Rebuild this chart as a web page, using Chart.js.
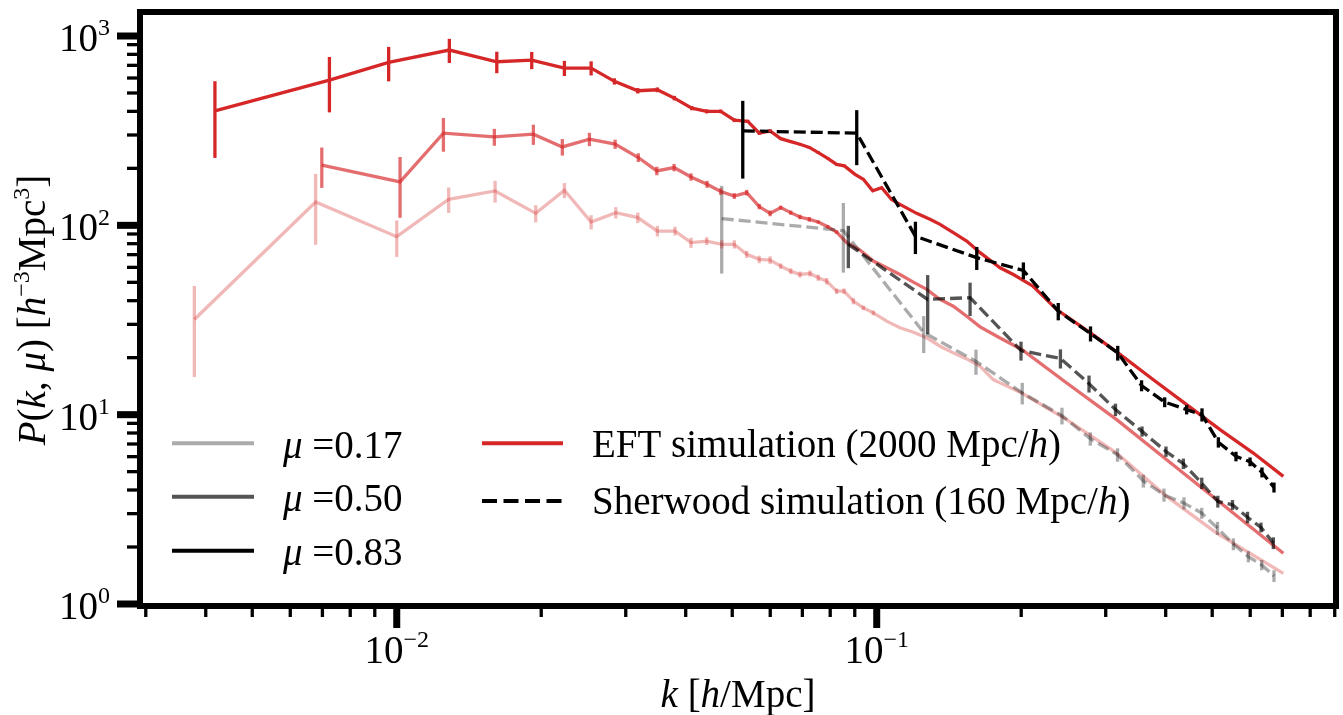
<!DOCTYPE html>
<html>
<head>
<meta charset="utf-8">
<script src="https://cdn.jsdelivr.net/npm/chart.js@4.4.0/dist/chart.umd.min.js"></script>
<style>
  html, body { margin: 0; padding: 0; background: #fff; }
</style>
</head>
<body>
<canvas id="myChart" width="1343" height="715"></canvas>
<script>
// EFT simulation (2000 Mpc/h), three mu bins
const eftK83 = [0.00418, 0.00724, 0.00962, 0.01287, 0.01616, 0.01911, 0.02235, 0.02541, 0.02841, 0.03178,
  0.03491, 0.03787, 0.04118, 0.04424, 0.04732, 0.0505, 0.05387, 0.05692, 0.05996, 0.0631,
  0.0662, 0.0692, 0.07238, 0.07555, 0.07905, 0.0825, 0.08561, 0.09011, 0.09378, 0.09809,
  0.1024, 0.1074, 0.1118, 0.1211, 0.1291, 0.1355, 0.1444, 0.154, 0.1642, 0.1807,
  0.1926, 0.2117, 0.2371, 0.2783, 0.3213, 0.377, 0.4423, 0.5191, 0.609, 0.7033];
const eftP83 = [402, 585, 726, 843, 731, 746, 677, 677, 576, 514,
  520, 470, 416, 400, 400, 359, 354, 307, 315, 287,
  277, 268, 258, 242, 226, 210, 206, 186, 175, 152,
  158, 137, 129, 115.7, 107.6, 101.2, 91.5, 82.6, 71.7, 59.7,
  55.0, 47.7, 35.9, 27.1, 20.8, 15.3, 11.3, 8.33, 6.27, 4.72];
const eftErr83 = [175, 190, 150, 123, 95, 78, 62, 58, 22, 17,
  15, 13, 11, 10, 9, 8, 7, 6, 6, 5,
  5, 4, 4, 4, 3, 3, 3, 0, 0, 0];

const eftK50 = [0.00698, 0.01016, 0.01251, 0.01597, 0.01926, 0.02213, 0.0252, 0.02851, 0.03186, 0.03482,
  0.03783, 0.04103, 0.04431, 0.04732, 0.0505, 0.05359, 0.05692, 0.05996, 0.0631, 0.0662,
  0.0692, 0.07238, 0.07555, 0.07905, 0.0825, 0.08658, 0.09231, 0.09837, 0.1049, 0.1118,
  0.1192, 0.1271, 0.1355, 0.1444, 0.154, 0.1642, 0.1807, 0.2005, 0.2488, 0.3162,
  0.4019, 0.5109, 0.7033];
const eftP50 = [207.7, 169.6, 306.8, 293.2, 303, 259.6, 285.1, 268.4, 228.1, 193.9,
  202, 180.2, 164.8, 150.8, 142.9, 148.9, 125.6, 115.7, 124.1, 116.7,
  110.7, 107.6, 104.1, 98.4, 92.2, 81.0, 74.0, 64.8, 59.7, 55.0,
  50.1, 45.9, 40.6, 37.4, 33.1, 29.1, 25.4, 22.1, 14.7, 9.41,
  5.78, 3.55, 1.855];
const eftErr50 = [50, 60, 62, 30, 37, 26, 23, 15, 12, 10,
  9, 8, 7, 6, 5, 5, 4, 4, 3, 3,
  3, 3, 2, 2, 2];

const eftK17 = [0.003787, 0.006776, 0.01, 0.01283, 0.01603, 0.01948, 0.02235, 0.02541, 0.0286, 0.03178,
  0.03491, 0.038, 0.04103, 0.04424, 0.04754, 0.0505, 0.05359, 0.05692, 0.05996, 0.0631,
  0.0662, 0.0692, 0.07261, 0.07555, 0.07866, 0.0825, 0.08549, 0.0894, 0.09378, 0.09837,
  0.1049, 0.1118, 0.1192, 0.1271, 0.1355, 0.1444, 0.154, 0.1642, 0.1749, 0.1807,
  0.2005, 0.2488, 0.3162, 0.4019, 0.5109, 0.7033];
const eftP17 = [31.8, 132.9, 87.1, 137.3, 151.9, 115.7, 153.2, 104.1, 116.7, 109.8,
  93.3, 93.3, 81.0, 82.6, 79.4, 79.4, 70.3, 66.1, 65.6, 60.9,
  57.3, 55.0, 55.7, 52.9, 50.7, 44.9, 44.9, 39.8, 36.7, 34.5,
  31.2, 28.75, 27.25, 25.46, 22.98, 21.2, 19.71, 18.01, 15.32, 14.72,
  13.02, 9.41, 6.27, 3.70, 2.37, 1.45];
const eftErr17 = [16, 54, 19, 21, 20, 12, 14, 9, 8, 7,
  6, 5, 5, 4, 4, 4, 3, 3, 3, 2,
  2, 2, 2, 2, 2, 1.5, 1.5, 1.5, 1, 1];

// Sherwood simulation (160 Mpc/h), three mu bins
const shK83 = [0.05259, 0.09086, 0.1204, 0.1616, 0.2021, 0.2389, 0.2789, 0.3178, 0.3563, 0.3981,
  0.4423, 0.4761, 0.515, 0.5604, 0.5995, 0.6349, 0.6725];
const shP83 = [315.5, 306.8, 87.5, 67.5, 57.8, 35.2, 26.8, 21.2, 14.24, 11.65,
  10.63, 10.0, 7.15, 6.02, 5.64, 4.96, 4.13];
const shErr83 = [139, 99, 17, 9.4, 5.9, 3.7, 2.45, 1.9, 0.95, 0.7,
  0.6, 0.8, 0.45, 0.35, 0.3, 0.3, 0.25];

const shK50 = [0.08727, 0.1277, 0.1565, 0.1998, 0.2414, 0.2769, 0.3144, 0.3571, 0.4006, 0.4354,
  0.4755, 0.5137, 0.5511, 0.5923, 0.6318, 0.6704];
const shP50 = [79.4, 40.6, 41.5, 21.8, 19.83, 14.59, 10.63, 8.16, 6.39, 5.51,
  4.35, 3.48, 3.34, 2.87, 2.54, 2.10];
const shErr50 = [20, 14, 8.3, 2.5, 2.3, 1.5, 0.8, 0.5, 0.4, 0.35,
  0.3, 0.25, 0.2, 0.2, 0.15, 0.15];

const shK17 = [0.04754, 0.08521, 0.1253, 0.161, 0.201, 0.2432, 0.2786, 0.3175, 0.3593, 0.3967,
  0.4367, 0.4755, 0.5129, 0.5534, 0.5946, 0.634, 0.6725];
const shP17 = [108.6, 93.75, 27.16, 19.14, 13.02, 9.88, 7.46, 6.14, 4.47, 3.77,
  3.41, 3.02, 2.515, 2.073, 1.78, 1.608, 1.406];
const shErr17 = [53, 37.5, 6, 2.9, 1.7, 1.0, 0.6, 0.5, 0.35, 0.3,
  0.25, 0.2, 0.2, 0.15, 0.12, 0.1, 0.1];

// legend / axis text
const muLabels = ['0.17', '0.50', '0.83'];
const eftLabel = 'EFT simulation (2000 Mpc/';
const sherwoodLabel = 'Sherwood simulation (160 Mpc/';
const xMajorExps = [-2, -1];
const yMajorExps = [0, 1, 2, 3];

const FONT = '"Liberation Serif", "DejaVu Serif", serif';
const FS = 39;
const RED = [214, 39, 40];
const ALPHAS = [0.33, 0.67, 1];

function pts(ks, ps) {
  return ks.map((k, i) => ({ x: k, y: ps[i] }));
}
function rgba(c, a) {
  return 'rgba(' + c[0] + ',' + c[1] + ',' + c[2] + ',' + a + ')';
}

function eftSet(ks, ps, errs, a) {
  return {
    data: pts(ks, ps), errors: errs,
    borderColor: rgba(RED, a), borderWidth: 3.3,
    pointRadius: 0, tension: 0, order: 1
  };
}
function shSet(ks, ps, errs, a) {
  return {
    data: pts(ks, ps), errors: errs,
    borderColor: rgba([0, 0, 0], a), borderWidth: 3.3, borderDash: [12, 5],
    pointRadius: 0, tension: 0, order: 0
  };
}

// draw a string made of pieces: [text, 'n' | 'i' | 's']
function richText(ctx, parts, x, y, size, align) {
  const fonts = parts.map(p => (p[1] === 'i' ? 'italic ' : '') +
    (p[1] === 's' ? Math.round(size * 0.62) : size) + 'px ' + FONT);
  let w = 0;
  parts.forEach((p, i) => { ctx.font = fonts[i]; w += ctx.measureText(p[0]).width; });
  let cx = align === 'center' ? x - w / 2 : (align === 'right' ? x - w : x);
  ctx.textAlign = 'left';
  ctx.textBaseline = 'alphabetic';
  parts.forEach((p, i) => {
    ctx.font = fonts[i];
    ctx.fillText(p[0], cx, p[1] === 's' ? y - size * 0.4 : y);
    cx += ctx.measureText(p[0]).width;
  });
}

const errorBars = {
  id: 'errorBars',
  afterDatasetsDraw(chart) {
    const ctx = chart.ctx, xs = chart.scales.x, ys = chart.scales.y, a = chart.chartArea;
    ctx.save();
    ctx.beginPath();
    ctx.rect(a.left, a.top, a.right - a.left, a.bottom - a.top);
    ctx.clip();
    ctx.setLineDash([]);
    ctx.lineWidth = 3.3;
    chart.data.datasets.forEach(ds => {
      ctx.strokeStyle = ds.borderColor;
      ds.data.forEach((p, i) => {
        const e = ds.errors[i];
        if (!e) return;
        const px = xs.getPixelForValue(p.x);
        ctx.beginPath();
        ctx.moveTo(px, ys.getPixelForValue(p.y + e));
        ctx.lineTo(px, ys.getPixelForValue(Math.max(p.y - e, 0.5)));
        ctx.stroke();
      });
    });
    ctx.restore();
  }
};

const decorations = {
  id: 'decorations',
  afterDraw(chart) {
    const ctx = chart.ctx, xs = chart.scales.x, ys = chart.scales.y, a = chart.chartArea;
    ctx.save();
    ctx.fillStyle = '#000';
    ctx.strokeStyle = '#000';
    ctx.setLineDash([]);

    // ticks
    for (let e = -3; e <= -1; e++) {
      for (let m = 1; m <= 9; m++) {
        const v = m * Math.pow(10, e);
        if (v < xs.min || v > xs.max) continue;
        const px = xs.getPixelForValue(v);
        ctx.lineWidth = m === 1 ? 7 : 3.3;
        ctx.beginPath();
        ctx.moveTo(px, a.bottom);
        ctx.lineTo(px, a.bottom + (m === 1 ? 24 : 13));
        ctx.stroke();
      }
    }
    for (let e = 0; e <= 3; e++) {
      for (let m = 1; m <= 9; m++) {
        const v = m * Math.pow(10, e);
        if (v < ys.min || v > ys.max) continue;
        const py = ys.getPixelForValue(v);
        ctx.lineWidth = m === 1 ? 7 : 3.3;
        ctx.beginPath();
        ctx.moveTo(a.left, py);
        ctx.lineTo(a.left - (m === 1 ? 23 : 13), py);
        ctx.stroke();
      }
    }

    // frame
    ctx.lineWidth = 6;
    ctx.strokeRect(a.left, a.top, a.right - a.left, a.bottom + 2 - a.top);

    // tick labels
    xMajorExps.forEach(e => {
      richText(ctx, [['10', 'n'], ['\u2212' + Math.abs(e), 's']], xs.getPixelForValue(Math.pow(10, e)), 663, FS, 'center');
    });
    yMajorExps.forEach(e => {
      richText(ctx, [['10', 'n'], [String(e), 's']], 110, ys.getPixelForValue(Math.pow(10, e)) + 15, FS, 'right');
    });

    // axis titles
    richText(ctx, [['k', 'i'], [' [', 'n'], ['h', 'i'], ['/Mpc]', 'n']], (a.left + a.right) / 2, 707, FS, 'center');
    ctx.save();
    ctx.translate(45, 310);
    ctx.rotate(-Math.PI / 2);
    richText(ctx, [['P', 'i'], ['(', 'n'], ['k', 'i'], [', ', 'n'], ['\u03bc', 'i'], [') [', 'n'],
      ['h', 'i'], ['\u22123', 's'], ['Mpc', 'n'], ['3', 's'], [']', 'n']], 0, 0, FS, 'center');
    ctx.restore();

    // legend, column 1
    const rows1 = [443.3, 496.7, 550.7];
    muLabels.forEach((lab, i) => {
      ctx.strokeStyle = rgba([0, 0, 0], ALPHAS[i]);
      ctx.lineWidth = 4;
      ctx.beginPath();
      ctx.moveTo(172, rows1[i]);
      ctx.lineTo(254, rows1[i]);
      ctx.stroke();
      richText(ctx, [['\u03bc', 'i'], [' =' + lab, 'n']], 283, rows1[i] + 14.5, FS, 'left');
    });
    // legend, column 2
    ctx.strokeStyle = rgba(RED, 1);
    ctx.beginPath();
    ctx.moveTo(482, 443.3);
    ctx.lineTo(563, 443.3);
    ctx.stroke();
    richText(ctx, [[eftLabel, 'n'], ['h', 'i'], [')', 'n']], 592, 457, FS, 'left');
    ctx.strokeStyle = '#000';
    ctx.setLineDash([15, 6.5]);
    ctx.beginPath();
    ctx.moveTo(482, 501);
    ctx.lineTo(563, 501);
    ctx.stroke();
    ctx.setLineDash([]);
    richText(ctx, [[sherwoodLabel, 'n'], ['h', 'i'], [')', 'n']], 592, 514, FS, 'left');
    ctx.restore();
  }
};

const ctx = document.getElementById('myChart').getContext('2d');
const myChart = new Chart(ctx, {
  type: 'line',
  data: {
    datasets: [
      shSet(shK83, shP83, shErr83, ALPHAS[2]),
      shSet(shK50, shP50, shErr50, ALPHAS[1]),
      shSet(shK17, shP17, shErr17, ALPHAS[0]),
      eftSet(eftK83, eftP83, eftErr83, ALPHAS[2]),
      eftSet(eftK50, eftP50, eftErr50, ALPHAS[1]),
      eftSet(eftK17, eftP17, eftErr17, ALPHAS[0])
    ]
  },
  options: {
    responsive: false,
    animation: false,
    devicePixelRatio: 1,
    layout: { padding: { left: 140, right: 7, top: 12, bottom: 111 } },
    scales: {
      x: { type: 'logarithmic', min: 0.002918, max: 0.9055, display: false },
      y: { type: 'logarithmic', min: 1, max: 1339, display: false }
    },
    plugins: {
      legend: { display: false },
      tooltip: { enabled: false }
    }
  },
  plugins: [errorBars, decorations]
});
</script>
</body>
</html>
